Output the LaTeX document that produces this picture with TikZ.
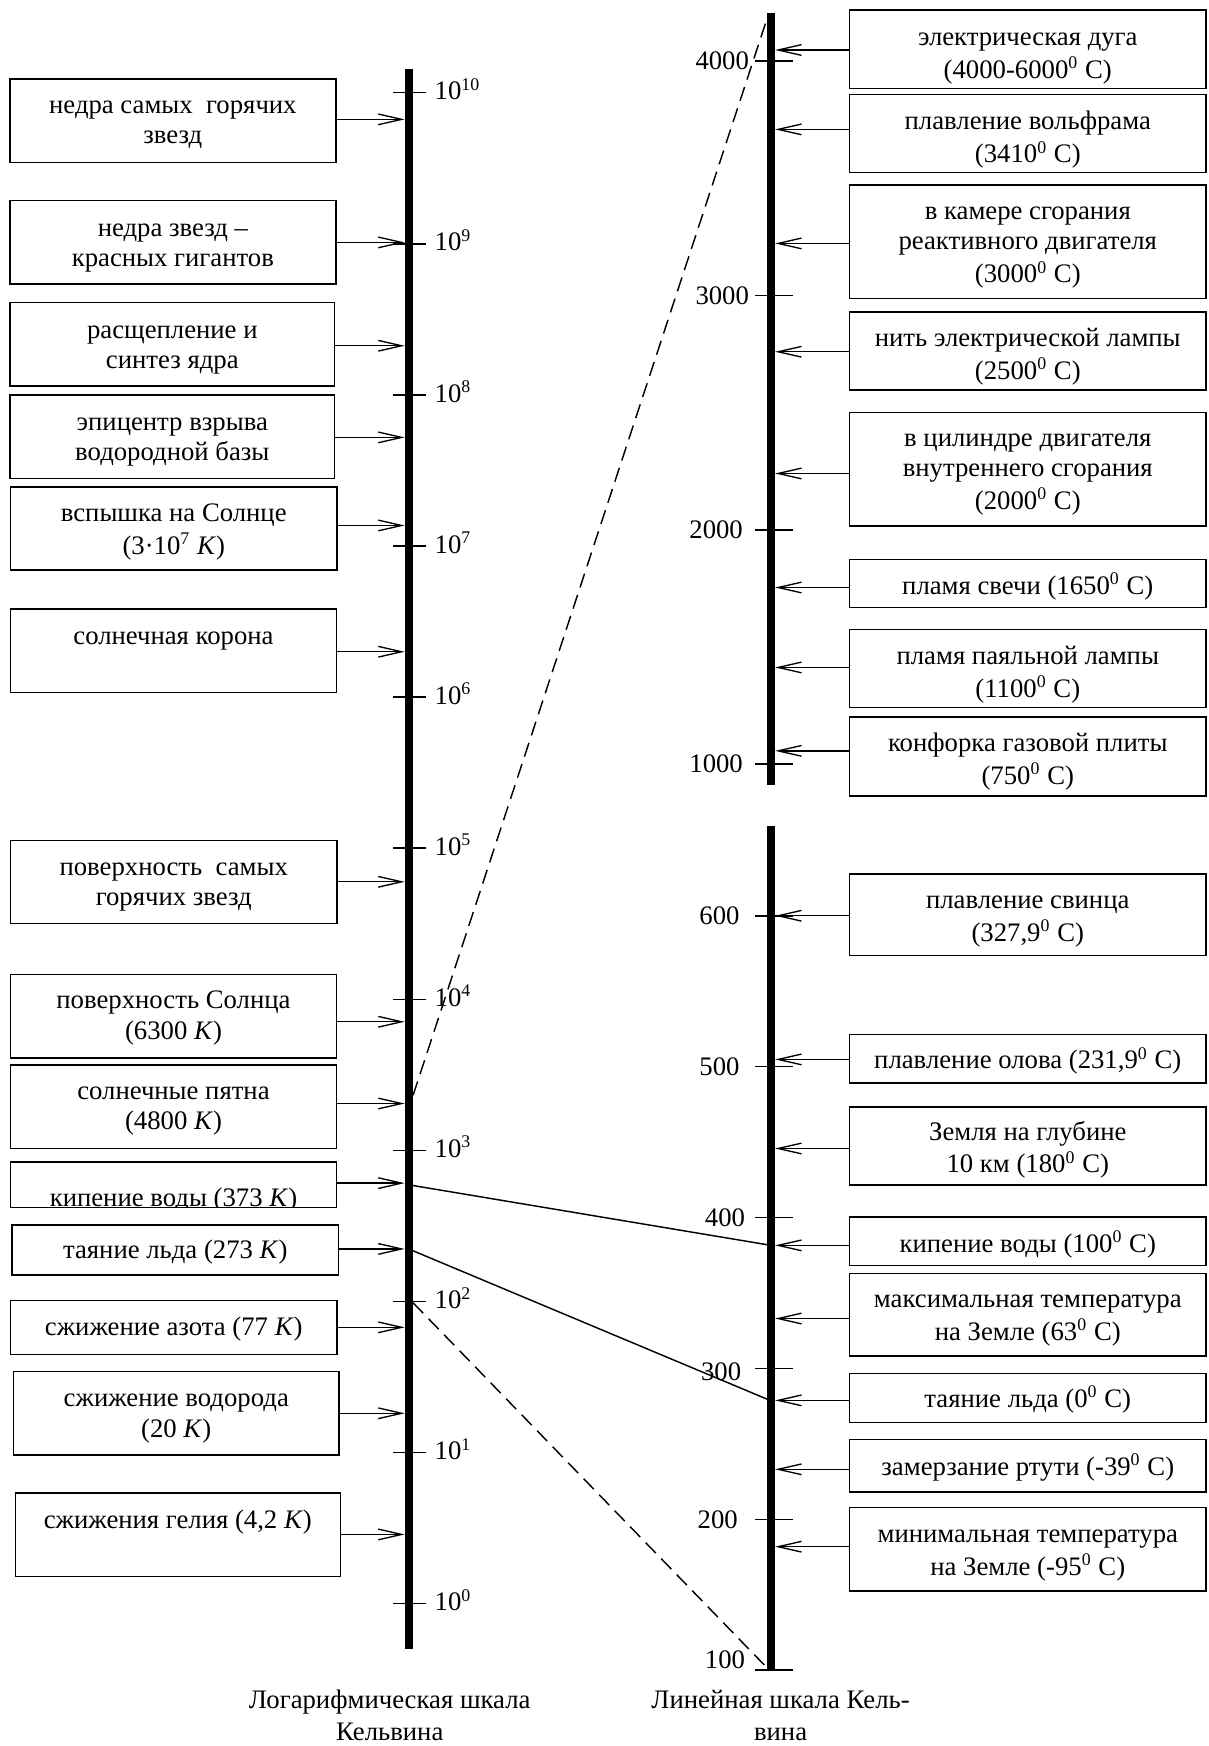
\documentclass[tikz,border=0pt]{standalone}
\usepackage{fontspec}
\setmainfont{Liberation Serif}
\usetikzlibrary{arrows.meta,fit}
\begin{document}
\begin{tikzpicture}[x=0.5pt,y=-0.5pt,
  boxst/.style={draw, line width=0.7pt, inner sep=0pt},
  txt/.style={anchor=north, yshift=6.7pt, align=center, inner sep=0pt, font=\fontsize{12}{13.5}\selectfont},
  lab/.style={inner sep=0pt, font=\fontsize{12}{13.5}\selectfont},
  arr/.style={line width=0.6pt, -{Straight Barb[length=10.5pt,width=4.8pt]}},
  axisst/.style={line width=3.6pt},
  tickst/.style={line width=0.7pt},
  conn/.style={line width=0.65pt},
  dashln/.style={line width=0.65pt, dash pattern=on 6.5pt off 3.5pt}]
\useasboundingbox (0,0) rectangle (1085,1568);

% ---------- axes ----------
\coordinate (LT) at (367,62);
\coordinate (LB) at (367,1481);
\coordinate (RUT) at (692.5,11.4);
\coordinate (RUB) at (692.5,705);
\coordinate (RLT) at (692.5,742);
\coordinate (RLB) at (692.5,1500);
\draw[axisst] (LT) -- (LB);
\draw[axisst] (RUT) -- (RUB);
\draw[axisst] (RLT) -- (RLB);

% left ticks
\foreach \n in {0,...,10}{
  \pgfmathsetmacro{\yy}{83.2+135.7*(10-\n)}
  \draw[tickst] (353,\yy) -- (383,\yy);
  \node[lab, anchor=base west] (lt\n) at (390,\yy+6.5) {10\textsuperscript{\n}};
}
% right ticks upper
\foreach \v/\yy/\xx in {4000/54.8/673, 3000/265.3/673, 2000/475.8/667.5, 1000/686.3/667.5}{
  \draw[tickst] (678,\yy) -- (712,\yy);
  \node[lab, anchor=east] (rt\v) at (\xx,\yy) {\v};
}
% right ticks lower
\foreach \v/\yy/\xx/\dy in {600/822.4/664.5/0, 500/957.9/664.5/0, 400/1093.4/669.5/0, 300/1228.9/666/3, 200/1364.4/663/0, 100/1499.9/669.5/-9}{
  \draw[tickst] (678,\yy) -- (712,\yy);
  \node[lab, anchor=east] (rt\v) at (\xx,\yy+\dy) {\v};
}

% ---------- connectors between scales ----------
\coordinate (d1a) at (371,983.5);
\coordinate (d1b) at (690.4,12);
\coordinate (d2a) at (371,1170);
\coordinate (d2b) at (691,1500);
\draw[dashln] (d1a) -- (d1b);
\draw[dashln] (d2a) -- (d2b);
\coordinate (s1a) at (367,1064);
\coordinate (s1b) at (692.5,1118.4);
\coordinate (s2a) at (367,1121.6);
\coordinate (s2b) at (691.5,1257.6);
\draw[conn] (s1a) -- (s1b);
\draw[conn] (s2a) -- (s2b);

% ---------- left boxes ----------
\foreach \nm/\ay in {b1/107.2, b2/217.7, b3/310.5, b4/392.8, b5/471.9, b6/585.3,
  b7/791.9, b8/917.6, b9/991, b10/1062.5, b11/1121.6, b12/1192, b13/1269.2, b14/1378}{
  \coordinate (\nm t) at (363.4,\ay);
}

% clipped text of box 10
\begin{scope}
  \clip (9.6,1043.4) rectangle (302,1083.6);
  \node[txt] (t10) at (155.8,1077.5) {\strut кипение воды (373 \textit{K})};
\end{scope}

\node[boxst, fit={(9,71) (301.5,145.8)}] (b1) {};
\node[boxst, fit={(9,180.2) (301.5,255.1)}] (b2) {};
\node[boxst, fit={(9,271.6) (300.5,346.4)}] (b3) {};
\node[boxst, fit={(9,354.8) (300.5,429.7)}] (b4) {};
\node[boxst, fit={(9.6,437.1) (302.5,512)}] (b5) {};
\node[boxst, fit={(9.6,547) (302,621.9)}] (b6) {};
\node[boxst, fit={(9.6,755) (302.5,829.3)}] (b7) {};
\node[boxst, fit={(9.6,875.1) (302,950)}] (b8) {};
\node[boxst, fit={(9.6,956.5) (302,1031.4)}] (b9) {};
\node[boxst, fit={(9.6,1043.4) (302,1084.5)}] (b10) {};
\node[boxst, fit={(11,1100) (303.9,1145)}] (b11) {};
\node[boxst, fit={(9.6,1168) (302.5,1216.3)}] (b12) {};
\node[boxst, fit={(12,1231.6) (304.6,1306.4)}] (b13) {};
\node[boxst, fit={(13.8,1341) (305.6,1415.8)}] (b14) {};

\node[txt] (t1) at (155.25,96.4) {\strut недра самых\ \ горячих\\\strut звезд};
\node[txt] (t2) at (155.25,206.6) {\strut недра звезд –\\\strut красных гигантов};
\node[txt] (t3) at (154.75,298) {\strut расщепление и\\\strut синтез ядра};
\node[txt] (t4) at (154.75,380.9) {\strut эпицентр взрыва\\\strut водородной базы};
\node[txt] (t5) at (156.05,462.6) {\strut вспышка на Солнце\\\strut (3·10\textsuperscript{7} \textit{K})};
\node[txt] (t6) at (155.8,572.5) {\strut солнечная корона};
\node[txt] (t7) at (156.05,779.9) {\strut поверхность\ \ самых\\\strut горячих звезд};
\node[txt] (t8) at (155.8,900.2) {\strut поверхность Солнца\\\strut (6300 \textit{K})};
\node[txt] (t9) at (155.8,981.4) {\strut солнечные пятна\\\strut (4800 \textit{K})};
\node[txt] (t11) at (157.45,1124.7) {\strut таяние льда (273 \textit{K})};
\node[txt] (t12) at (156.05,1193.5) {\strut сжижение азота (77 \textit{K})};
\node[txt] (t13) at (158.3,1257.6) {\strut сжижение водорода\\\strut (20 \textit{K})};
\node[txt] (t14) at (159.7,1367) {\strut сжижения гелия (4,2 \textit{K})};

\foreach \nm in {b1,b2,b3,b4,b5,b6,b7,b8,b9,b10,b11,b12,b13,b14}{
  \draw[arr] (\nm.east |- \nm t) -- (\nm t);
}

% ---------- right boxes ----------
\foreach \nm/\ya/\yb/\ay in {
  r1/9/79.3/44.9, r2/84.7/155.1/116.2, r3/166.2/268/218.6, r4/280/350.3/315.9,
  r5/370.4/472.2/425.2, r6/502.4/545.5/527.6, r7/565.3/635.3/599.4, r8/643.7/714.7/674.3,
  r9/785/858/822.4, r10/929/972.4/951.4, r11/994/1064.3/1031.4, r12/1092.8/1136.3/1118.4,
  r13/1143.5/1217.9/1184.1, r14/1233.5/1277.3/1257.6, r15/1292.6/1339.8/1319.5,
  r16/1353.9/1428.6/1389}{
  \node[boxst, fit={(763,\ya) (1083,\yb)}] (\nm) {};
  \coordinate (\nm t) at (696.1,\ay);
  \draw[arr] (\nm.west |- \nm t) -- (\nm t);
}

\node[txt] (u1) at (923,35.3) {\strut электрическая дуга\\\strut (4000-6000\textsuperscript{0} C)};
\node[txt] (u2) at (923,110.8) {\strut плавление вольфрама\\\strut (3410\textsuperscript{0} C)};
\node[txt] (u3) at (923,191.6) {\strut в камере сгорания\\\strut реактивного двигателя\\\strut (3000\textsuperscript{0} C)};
\node[txt] (u4) at (923,305.4) {\strut нить электрической лампы\\\strut (2500\textsuperscript{0} C)};
\node[txt] (u5) at (923,395.2) {\strut в цилиндре двигателя\\\strut внутреннего сгорания\\\strut (2000\textsuperscript{0} C)};
\node[txt] (u6) at (923,527.6) {\strut пламя свечи (1650\textsuperscript{0} C)};
\node[txt] (u7) at (923,590.7) {\strut пламя паяльной лампы\\\strut (1100\textsuperscript{0} C)};
\node[txt] (u8) at (923,669.2) {\strut конфорка газовой плиты\\\strut (750\textsuperscript{0} C)};
\node[txt] (u9) at (923,809.8) {\strut плавление свинца\\\strut (327,9\textsuperscript{0} C)};
\node[txt] (u10) at (923,953.5) {\strut плавление олова (231,9\textsuperscript{0} C)};
\node[txt] (u11) at (923,1017.9) {\strut Земля на глубине\\\strut 10 км (180\textsuperscript{0} C)};
\node[txt] (u12) at (923,1118.4) {\strut кипение воды (100\textsuperscript{0} C)};
\node[txt] (u13) at (923,1168.5) {\strut максимальная температура\\\strut на Земле (63\textsuperscript{0} C)};
\node[txt] (u14) at (923,1257.6) {\strut таяние льда (0\textsuperscript{0} C)};
\node[txt] (u15) at (923,1318.6) {\strut замерзание ртути (-39\textsuperscript{0} C)};
\node[txt] (u16) at (923,1379.6) {\strut минимальная температура\\\strut на Земле (-95\textsuperscript{0} C)};

% ---------- captions ----------
\node[txt, font=\fontsize{12}{14}\selectfont] (cap1) at (350,1528) {\strut Логарифмическая шкала\\\strut Кельвина};
\node[txt, font=\fontsize{12}{14}\selectfont] (cap2) at (701,1528) {\strut Линейная шкала Кель-\\\strut вина};
\end{tikzpicture}
\end{document}
